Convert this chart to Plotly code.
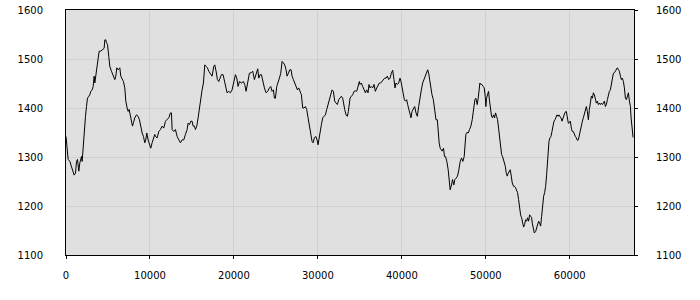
import plotly.graph_objects as go

x_vals = [
    0, 258, 456, 654, 972, 1131, 1250, 1369, 1527, 1646, 1845, 1924, 2043, 2162, 2321, 2440, 2559, 2718,
    2837, 2956, 3115, 3234, 3353, 3432, 3551, 3710, 3829, 3948, 4146, 4305, 4543, 4622, 4741, 4821, 4940,
    5099, 5218, 5416, 5614, 5813, 5932, 6051, 6210, 6408, 6527, 6686, 6844, 7003, 7122, 7281, 7400, 7519,
    7638, 7797, 7916, 8035, 8194, 8392, 8590, 8749, 8908, 9067, 9225, 9384, 9503, 9622, 9781, 9979, 10098,
    10257, 10416, 10574,
    10655, 10853, 11052, 11250, 11449, 11647, 11845, 12044, 12242, 12441, 12560, 12639, 12837, 13036,
    13234, 13433, 13631, 13829, 14028, 14226, 14425, 14544, 14702, 14861, 15020, 15139, 15298, 15417,
    15575, 15734, 15893, 16052, 16210, 16369, 16528, 16686, 16845, 17004, 17123, 17242, 17401, 17599,
    17718, 17877, 18035, 18194, 18353, 18512, 18710, 18869, 19027, 19186, 19385, 19583, 19782, 19980,
    20178, 20337, 20496, 20654, 20893, 21131, 21290, 21448, 21607, 21766,
    21846, 22044, 22243, 22441, 22560, 22719, 22838, 22957, 23116, 23274, 23433, 23632, 23830, 24028,
    24227, 24386, 24544, 24703, 24822, 24941, 25100, 25258, 25417, 25576, 25735, 25893, 26052, 26211,
    26330, 26489, 26647, 26806, 26925, 27084, 27242, 27401, 27560, 27719, 27877, 28036, 28195, 28354,
    28512, 28671, 28830, 28988, 29147, 29306, 29425, 29584, 29742, 29901, 30020, 30139, 30258, 30417,
    30576, 30734, 30893, 31052, 31210, 31369, 31528, 31687, 31845, 32004, 32163, 32322, 32480, 32639,
    32798, 32957,
    33036, 33195, 33353, 33512, 33631, 33750, 33830, 33988, 34147, 34306, 34464, 34623, 34782, 34941,
    35020, 35179, 35337, 35496, 35655, 35814, 35972, 36091, 36210, 36369, 36528, 36687, 36845, 37004,
    37163, 37321, 37480, 37639, 37798, 37956, 38115, 38274, 38433, 38591, 38750, 38909, 39067, 39186,
    39305, 39464, 39623, 39782, 39901, 40020, 40178, 40297, 40416, 40575, 40694, 40813, 40972, 41091,
    41210, 41369, 41528, 41686, 41845, 42004, 42162, 42321, 42480, 42639, 42798, 42956, 43075, 43194,
    43313, 43433, 43591, 43750, 43909, 44067, 44226,
    44325, 44444, 44564, 44683, 44802, 44961, 45080, 45200, 45359, 45518, 45637, 45756, 45915, 46034,
    46193, 46313, 46472, 46631, 46790, 46949, 47108, 47267, 47426, 47505, 47624, 47744, 47903, 48062,
    48221, 48380, 48539, 48698, 48817, 48976, 49095, 49175, 49294, 49413, 49532, 49691, 49811, 49930,
    50009, 50089, 50208, 50327, 50447, 50566, 50685, 50804, 50924, 51043, 51162, 51281, 51401, 51520,
    51639, 51758, 51878, 51997, 52156, 52325, 52434, 52553, 52673, 52792, 52911, 53030, 53150, 53309,
    53428, 53547, 53666, 53786, 53905, 54024, 54143, 54263, 54382, 54501, 54620, 54740, 54859, 54978,
    55097, 55217, 55336, 55455,
    55536, 55655, 55775, 55934, 56053, 56172, 56291, 56411, 56530, 56649, 56768, 56888, 57007, 57126,
    57245, 57365, 57444, 57524, 57643, 57762, 57881, 58001, 58120, 58239, 58358, 58478, 58597, 58716,
    58835, 58955, 59074, 59193, 59312, 59432, 59591, 59710, 59829, 59948, 60068, 60187, 60306, 60425,
    60545, 60664, 60783, 60902, 61022, 61141, 61260, 61379, 61499, 61618, 61737, 61856, 61976, 62095,
    62214, 62333, 62453, 62572, 62691, 62810, 62930, 63049, 63168, 63287, 63407, 63526, 63645, 63764,
    63884, 64003, 64122, 64241, 64361, 64480, 64599, 64718, 64838, 64957, 65076, 65195, 65315, 65434,
    65553, 65672, 65792, 65911, 66030, 66149, 66269, 66388, 66507, 66626, 66746, 66865, 66984, 67103,
    67223, 67302, 67382, 67461, 67541, 67650,
]

y_vals = [
    1342, 1295, 1291, 1281, 1263, 1267, 1291, 1295, 1271, 1288, 1301, 1291, 1325, 1356, 1383, 1403, 1420, 1424,
    1427, 1434, 1437, 1444, 1465, 1451, 1465, 1492, 1505, 1516, 1516, 1519, 1522, 1539, 1539, 1533, 1530,
    1505, 1485, 1475, 1465, 1458, 1465, 1482, 1478, 1482, 1465, 1458, 1454, 1441, 1414, 1400, 1393, 1397,
    1386, 1366, 1363, 1370, 1380, 1386, 1383, 1376, 1359, 1349, 1342, 1329, 1335, 1349, 1335, 1325, 1318,
    1329, 1339, 1346,
    1342, 1339, 1352, 1356, 1363, 1359, 1373, 1376, 1380, 1390, 1390, 1356, 1352, 1356, 1342, 1335,
    1329, 1335, 1335, 1346, 1356, 1369, 1366, 1373, 1373, 1363, 1363, 1356, 1363, 1380, 1400, 1424, 1437,
    1451, 1488, 1485, 1482, 1475, 1471, 1468, 1465, 1485, 1488, 1475, 1458, 1454, 1461, 1468, 1468, 1454,
    1441, 1431, 1434, 1431, 1437, 1454, 1468, 1461, 1444, 1454, 1451, 1454, 1448, 1434, 1451, 1465,
    1471, 1472, 1475, 1458, 1465, 1475, 1480, 1461, 1468, 1468, 1454, 1441, 1431, 1434, 1441, 1444, 1434,
    1437, 1420, 1420, 1444, 1451, 1461, 1471, 1495, 1492, 1488, 1478, 1465, 1471, 1478, 1478, 1465,
    1458, 1451, 1441, 1437, 1441, 1434, 1427, 1400, 1400, 1403, 1397, 1380, 1363, 1349, 1332, 1329, 1339,
    1342, 1335, 1325, 1335, 1352, 1366, 1380, 1383, 1386, 1397, 1407, 1417, 1427, 1437, 1434, 1414, 1410,
    1407, 1417, 1420, 1424,
    1420, 1410, 1397, 1386, 1383, 1393, 1414, 1420, 1424, 1427, 1434, 1435, 1434, 1444, 1454, 1448,
    1451, 1444, 1437, 1431, 1437, 1431, 1448, 1441, 1444, 1441, 1448, 1434, 1441, 1448, 1451, 1451, 1454,
    1458, 1461, 1461, 1465, 1458, 1461, 1471, 1477, 1458, 1441, 1451, 1448, 1451, 1461, 1454, 1444, 1424,
    1417, 1414, 1417, 1407, 1397, 1390, 1380, 1393, 1397, 1403, 1390, 1383, 1403, 1424, 1437, 1451, 1458,
    1465, 1475, 1478, 1471, 1454, 1441, 1427, 1417, 1397, 1376,
    1376, 1349, 1329, 1318, 1315, 1312, 1318, 1301, 1301, 1291, 1274, 1250, 1233, 1243, 1254, 1243,
    1254, 1257, 1261, 1274, 1291, 1298, 1291, 1301, 1329, 1346, 1350, 1349, 1356, 1363, 1376, 1393, 1417,
    1420, 1407, 1420, 1441, 1451, 1448, 1448, 1444, 1441, 1424, 1403, 1420, 1427, 1434, 1414, 1393, 1383,
    1380, 1386, 1380, 1390, 1383, 1376, 1359, 1342, 1318, 1305, 1301, 1291, 1281, 1267, 1261, 1267, 1271,
    1274, 1261, 1247, 1240, 1240, 1237, 1233, 1227, 1213, 1196, 1182, 1176, 1165, 1157, 1162, 1172, 1169,
    1176, 1169, 1182, 1179,
    1176, 1165, 1155, 1145, 1148, 1155, 1162, 1169, 1165, 1159, 1179, 1206, 1220, 1227, 1240, 1264, 1301,
    1322, 1332, 1339, 1342, 1352, 1366, 1373, 1376, 1382, 1386, 1383, 1386, 1382, 1380, 1373, 1380, 1386,
    1391, 1393, 1376, 1369, 1370, 1373, 1359, 1352, 1352, 1346, 1342, 1339, 1334, 1335, 1346, 1356, 1363,
    1373, 1380, 1390, 1397, 1403, 1393, 1376, 1397, 1414, 1424, 1420, 1431, 1427, 1417, 1410, 1414, 1407,
    1410, 1407, 1410, 1407, 1410, 1414, 1403, 1407, 1417, 1427, 1434, 1437, 1451, 1461, 1471, 1472, 1475,
    1480, 1482, 1478, 1475, 1465, 1458, 1461, 1454, 1441, 1420, 1417, 1427, 1431, 1414, 1403, 1380, 1359,
    1352, 1340,
]

x_tick_vals = [0, 10000, 20000, 30000, 40000, 50000, 60000]
x_tick_text = ["0", "10000", "20000", "30000", "40000", "50000", "60000"]
y_tick_vals = [1100, 1200, 1300, 1400, 1500, 1600]

font = dict(family="DejaVu Sans", size=10, color="#000000")

fig = go.Figure()
fig.add_trace(go.Scatter(x=x_vals, y=y_vals, mode="lines",
                         line=dict(color="#000000", width=1), hoverinfo="skip",
                         showlegend=False))
fig.add_trace(go.Scatter(x=x_vals, y=y_vals, mode="lines", yaxis="y2",
                         line=dict(color="rgba(0,0,0,0)", width=1), hoverinfo="skip",
                         showlegend=False))

fig.update_layout(
    width=700, height=300,
    margin=dict(l=66, r=66, t=10, b=45, autoexpand=False),
    paper_bgcolor="#ffffff",
    plot_bgcolor="#e0e0e0",
    font=font,
    xaxis=dict(range=[0, 67650], tickvals=x_tick_vals, ticktext=x_tick_text, showgrid=True,
               gridcolor="#d0d0d0", gridwidth=1, zeroline=False, showline=True,
               linecolor="#000000", linewidth=1, mirror=True, ticks="outside", ticklen=3,
               tickcolor="#000000", ticklabelstandoff=8, tickfont=font, automargin=False),
    yaxis=dict(range=[1100, 1600], tickvals=y_tick_vals, showgrid=True, gridcolor="#d0d0d0",
               gridwidth=1, zeroline=False, showline=True, linecolor="#000000", linewidth=1,
               ticks="", ticklabelstandoff=20, tickfont=font, automargin=False),
    yaxis2=dict(range=[1100, 1600], tickvals=y_tick_vals, overlaying="y", side="right",
                showgrid=False, zeroline=False, showline=True, linecolor="#000000", linewidth=1,
                ticks="outside", ticklen=3, tickcolor="#000000", ticklabelstandoff=16,
                tickfont=font, automargin=False),
)

fig.write_html("out.html")
